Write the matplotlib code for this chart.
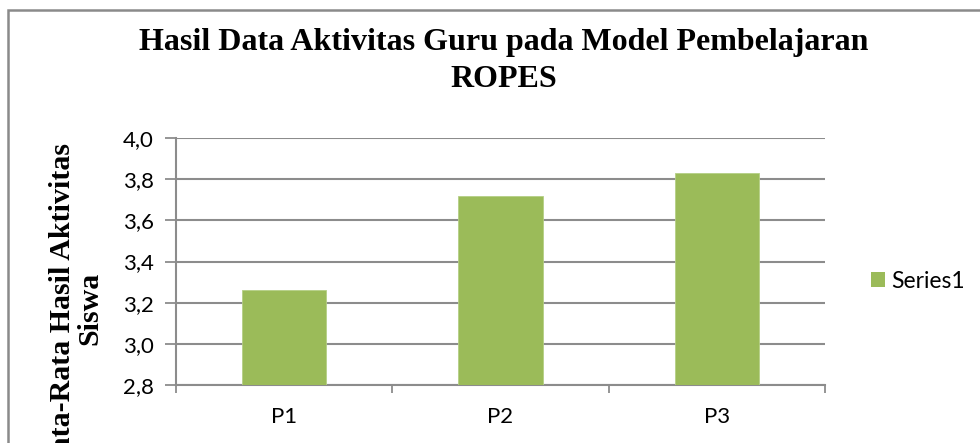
import matplotlib.pyplot as plt
from matplotlib.patches import Patch, Rectangle

categories = ['P1', 'P2', 'P3']
values = [3.26, 3.72, 3.83]
series_name = 'Series1'
y_ticks = [2.8, 3.0, 3.2, 3.4, 3.6, 3.8, 4.0]
y_tick_labels = ['2,8', '3,0', '3,2', '3,4', '3,6', '3,8', '4,0']

green = '#9bbb59'
grid_gray = '#8c8c8c'
tick_font = 'Lato'
serif = 'Liberation Serif'

fig = plt.figure(figsize=(9.8, 4.43), dpi=100)
ax = fig.add_axes([0.1796, 0.1309, 0.6622, 0.5576])

x = list(range(len(categories)))
ax.bar(x, values, width=0.39, color=green, edgecolor='#b5cf85', linewidth=0.6, zorder=3)

ax.set_ylim(2.8, 4.0)
ax.set_xlim(-0.5, len(categories) - 0.5)
ax.set_yticks(y_ticks)
ax.set_yticklabels(y_tick_labels, fontname=tick_font, fontsize=16)
ax.yaxis.grid(True, color=grid_gray, linewidth=1.5, zorder=0)

# category boundaries get the ticks, names sit in between
ax.set_xticks([i - 0.5 for i in range(len(categories) + 1)])
ax.set_xticklabels([])
ax.set_xticks(x, minor=True)
ax.set_xticklabels(categories, minor=True, fontname=tick_font, fontsize=16)
ax.tick_params(axis='x', which='major', length=6, width=1.3, color=grid_gray, direction='out')
ax.tick_params(axis='x', which='minor', length=0, pad=16)
ax.tick_params(axis='y', length=8, width=1.3, color=grid_gray, pad=8)

for side in ['top', 'right']:
    ax.spines[side].set_visible(False)
for side in ['left', 'bottom']:
    ax.spines[side].set_color(grid_gray)
    ax.spines[side].set_linewidth(1.5)

fig.text(504 / 980, 1 - 61 / 443, 'Hasil Data Aktivitas Guru pada Model Pembelajaran\nROPES',
         ha='center', va='center', fontname=serif, fontweight='bold', fontsize=23,
         linespacing=1.35)

fig.text(76 / 980, 1 - 308 / 443, 'Rata-Rata Hasil Aktivitas\nSiswa', rotation=90,
         ha='center', va='center', fontname=serif, fontweight='bold', fontsize=21.5,
         linespacing=1.0)

fig.legend(handles=[Patch(facecolor=green, label=series_name)], loc='center left',
           bbox_to_anchor=(871 / 980, 1 - 281 / 443), frameon=False,
           prop={'family': tick_font, 'size': 16.5}, handlelength=0.6, handleheight=0.6,
           handletextpad=0.3, borderaxespad=0, borderpad=0)

# outer chart frame (bottom and right run off the picture)
fig.add_artist(Rectangle((8 / 980, -0.2), 1.2, 1 - 10 / 443 + 0.2, transform=fig.transFigure,
                         fill=False, edgecolor='#8a8a8a', linewidth=1.8))

fig.savefig('out.png', dpi=100)
